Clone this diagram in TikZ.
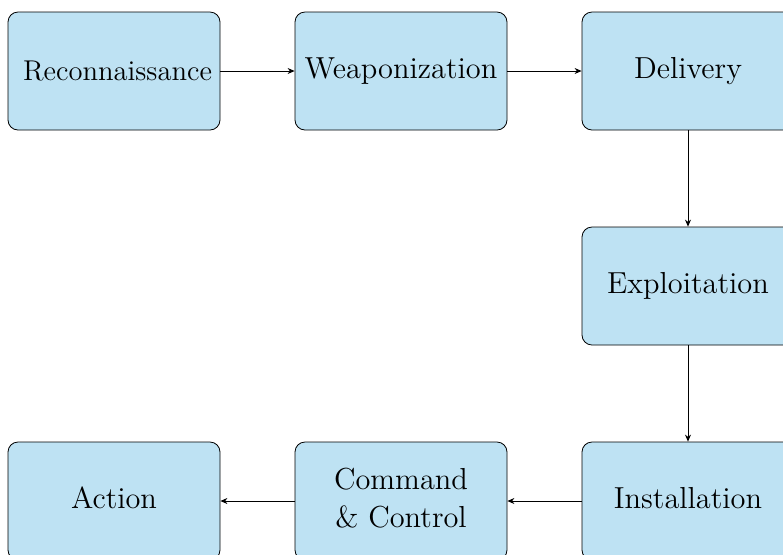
\documentclass[tikz,border=0pt]{standalone}
\usetikzlibrary{arrows.meta}
\definecolor{boxfill}{RGB}{190,226,243}
\newcommand{\stagetext}[1]{\raisebox{-1pt}{\scalebox{1.055}{\begin{tabular}{@{}c@{}}#1\end{tabular}}}}
\begin{document}
\begin{tikzpicture}[x=1pt,y=1pt,
  stage/.style={draw=black, fill=boxfill, rounded corners=5pt, minimum width=106pt, minimum height=59pt, align=center, font=\Large, line width=0.4pt, inner sep=2pt},
  conn/.style={-{Stealth[length=3.5pt,width=3pt]}, line width=0.4pt}]
\useasboundingbox (0,0) rectangle (391.5,-277);
\clip (0,0) rectangle (391.5,-277);
\node[stage] (rec) at (57,-35.5) {\hspace*{3.5pt}\resizebox{94.5pt}{!}{Reconnaissance}};
\node[stage] (wea) at (200.5,-35.5) {\stagetext{Weaponization}};
\node[stage] (del) at (344,-35.5) {\stagetext{Delivery}};
\node[stage] (exp) at (344,-143) {\stagetext{Exploitation}};
\node[stage] (ins) at (344,-250.5) {\stagetext{Installation}};
\node[stage] (cc) at (200.5,-250.5) {\stagetext{Command\\\& Control}};
\node[stage] (act) at (57,-250.5) {\stagetext{Action}};
\draw[conn] (rec) -- (wea);
\draw[conn] (wea) -- (del);
\draw[conn] (del) -- (exp);
\draw[conn] (exp) -- (ins);
\draw[conn] (ins) -- (cc);
\draw[conn] (cc) -- (act);
\end{tikzpicture}
\end{document}
